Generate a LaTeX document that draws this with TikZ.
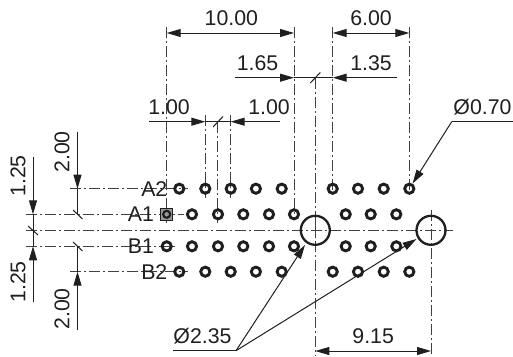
\documentclass[tikz,border=0pt]{standalone}
\usepackage{fontspec}
\setmainfont{Liberation Sans}
\usetikzlibrary{arrows.meta}
\definecolor{ink}{gray}{0.12}
\tikzset{
  centre/.style={draw=ink!85,line width=0.8pt,dash pattern=on 11pt off 3pt on 2pt off 3pt},
  dim/.style={draw=ink,line width=1pt},
  arrowdim/.style={dim,-{Triangle[length=14pt,width=8pt]}},
  both/.style={dim,{Triangle[length=14pt,width=8pt]}-{Triangle[length=14pt,width=8pt]}},
  tick/.style={draw=ink,line width=1pt},
  lab/.style={text=ink,font=\fontsize{21.3}{23}\selectfont,inner sep=0pt},
  pin/.style={lab},
  pad/.style={circle,draw=ink,line width=2.9pt,minimum size=9.2pt,inner sep=0pt},
  sqpad/.style={rectangle,draw=ink,line width=1pt,fill=ink!45,minimum size=12pt,inner sep=0pt},
  hole/.style={circle,draw=ink,line width=2.3pt,minimum size=29pt,inner sep=0pt}
}
\begin{document}
\begin{tikzpicture}[x=1pt,y=-1pt]
\useasboundingbox (0,0) rectangle (513,356);
% free ends of the extension lines
\coordinate (t1) at (166.7,27); \coordinate (t2) at (294,27);
\coordinate (t3) at (332.7,27); \coordinate (t4) at (409.3,27);
\coordinate (t5) at (315.3,78); \coordinate (t6) at (205.3,115);
\coordinate (t7) at (217.7,122); \coordinate (t8) at (230.7,115);
\coordinate (b1) at (315.3,356); \coordinate (b2) at (431,356);
\coordinate (la2) at (70,188.7); \coordinate (la1) at (26,214.3);
\coordinate (lc) at (26,230.3); \coordinate (lb1) at (26,246.3);
\coordinate (lb2) at (70,271.7); \coordinate (rc) at (453,230.3);
% centre lines (under the pads)
\draw[centre] (t1) -- (166.7,223);
\draw[centre] (t2) -- (294,214);
\draw[centre] (t3) -- (332.7,198);
\draw[centre] (t4) -- (409.3,198);
\draw[centre] (t5) -- (315.3,238);
\draw[centre] (t6) -- (205.3,198);
\draw[centre] (t7) -- (217.7,223);
\draw[centre] (t8) -- (230.7,198);
\draw[centre] (315.3,222) -- (b1);
\draw[centre] (431,210) -- (b2);
\draw[centre] (la2) -- (188,188.7);
\draw[centre] (la1) -- (184,214.3);
\draw[centre] (lc) -- (rc);
\draw[centre] (lb1) -- (175,246.3);
\draw[centre] (lb2) -- (188,271.7);
% pads
\foreach \r/\y in {A2/188.7,B2/271.7}
  \foreach \i/\x in {1/179.3,2/205.3,3/230.7,4/255.9,5/281.7,6/332.7,7/358,8/383.7,9/409.3}
    \node[pad] (\r-\i) at (\x,\y) {};
\foreach \r/\y in {A1/214.3,B1/246.3}
  \foreach \i/\x in {2/192,3/218,4/243.3,5/269,6/294,7/345.7,8/370.7,9/396.3}
    \node[pad] (\r-\i) at (\x,\y) {};
\node[pad] (B1-1) at (166.7,246.3) {};
\node[sqpad] (A1-1) at (166.7,214.3) {};
\node[pad,minimum size=7pt,line width=2.2pt] (A1-1c) at (166.7,214.3) {};
\node[hole] (H1) at (315.3,230.3) {};
\node[hole] (H2) at (431,230.3) {};
% pin labels
\node[pin] at (154.3,188.7) {A2};
\node[pin] at (141,214.3) {A1};
\node[pin] at (141,246.3) {B1};
\node[pin] at (154.3,271.7) {B2};
% top dimensions
\coordinate (d10a) at (166.7,33); \coordinate (d10b) at (294,33);
\draw[both] (d10a) -- node[lab,above=7pt,xshift=1pt] {10.00} (d10b);
\coordinate (d6a) at (332.7,33); \coordinate (d6b) at (409.3,33);
\draw[both] (d6a) -- node[lab,above=7pt] {6.00} (d6b);
% 1.65 / 1.35
\coordinate (a1) at (235,77.7); \coordinate (a2) at (294,77.7);
\coordinate (a3) at (332.7,77.7); \coordinate (a4) at (397,77.7);
\draw[arrowdim] (a1) -- (a2);
\draw[arrowdim] (a4) -- (a3);
\draw[dim] (a2) -- (a3);
\draw[tick] (310.3,83) -- (320.3,72.5);
\node[lab] at (257.5,63) {1.65};
\node[lab] at (371,63) {1.35};
% 1.00 / 1.00
\coordinate (c1) at (149,121.7); \coordinate (c2) at (205.3,121.7);
\coordinate (c3) at (230.7,121.7); \coordinate (c4) at (280,121.7);
\draw[arrowdim] (c1) -- (c2);
\draw[arrowdim] (c4) -- (c3);
\draw[dim] (c2) -- (c3);
\draw[tick] (213,127) -- (223,116.5);
\node[lab] at (169,107) {1.00};
\node[lab] at (269,107) {1.00};
% left 1.25
\coordinate (e1) at (33,156.5); \coordinate (e2) at (33,214.3);
\coordinate (e3) at (33,246.3); \coordinate (e4) at (33,302);
\draw[arrowdim] (e1) -- (e2);
\draw[arrowdim] (e4) -- (e3);
\draw[dim] (e2) -- (e3);
\draw[tick] (28,226) -- (38,235);
\node[lab,rotate=90] at (18,176) {1.25};
\node[lab,rotate=90] at (18,282) {1.25};
% left 2.00
\coordinate (f1) at (77.5,131.5); \coordinate (f2) at (77.5,188.7);
\coordinate (f3) at (77.5,214.3); \coordinate (f4) at (77.5,246.3);
\coordinate (f5) at (77.5,271.7); \coordinate (f6) at (77.5,330);
\draw[arrowdim] (f1) -- (f2);
\draw[dim] (f2) -- (f3);
\draw[arrowdim] (f6) -- (f5);
\draw[dim] (f5) -- (f4);
\draw[tick] (73,210) -- (82.5,219);
\draw[tick] (73,242) -- (82.5,251);
\node[lab,rotate=90] at (62,152) {2.00};
\node[lab,rotate=90] at (62,309) {2.00};
% Ø0.70
\coordinate (g1) at (513,121.7); \coordinate (g2) at (451.7,121.7);
\draw[dim] (g1) -- (g2);
\draw[arrowdim] (g2) -- (A2-9);
\node[lab] at (482.5,107.5) {Ø0.70};
% Ø2.35
\coordinate (h1) at (173,350.7); \coordinate (h2) at (236,350.7);
\draw[dim] (h1) -- (h2);
\draw[arrowdim] (h2) -- (305,245);
\draw[arrowdim] (h2) -- (416.5,239);
\node[lab] at (202.5,336) {Ø2.35};
% 9.15
\coordinate (k1) at (315.3,351); \coordinate (k2) at (431,351);
\draw[both] (k1) -- node[lab,above=7pt] {9.15} (k2);
\end{tikzpicture}
\end{document}
